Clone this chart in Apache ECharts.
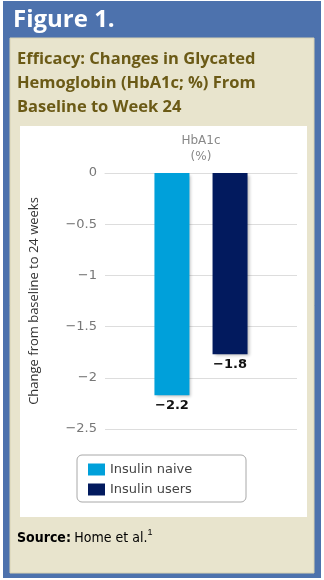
<!DOCTYPE html>
<html>
<head>
<meta charset="utf-8">
<script src="https://cdn.jsdelivr.net/npm/echarts@6/dist/echarts.min.js"></script>
<style>
html,body{margin:0;padding:0;background:#fff;}
#c{width:324px;height:580px;}
</style>
</head>
<body>
<div id="c"></div>
<script>
// ---- data ----
var categories = ['HbA1c\n(%)'];
var seriesNames = ['Insulin naive', 'Insulin users'];
var naiveValues = [-2.17];
var usersValues = [-1.77];
var yMin = -2.5, yMax = 0, yStep = 0.5;
var figureLabel = 'Figure 1.';
var titleLines = ['Efficacy: Changes in Glycated', 'Hemoglobin (HbA1c; %) From', 'Baseline to Week 24'];
var yAxisName = 'Change from baseline to 24 weeks';

var chart = echarts.init(document.getElementById('c'), null, {renderer: 'canvas'});
function minus(v){ return String(v).replace('-', '\u2212'); }

var titleFont = 'bold 16.5px "Open Sans", "Noto Sans", sans-serif';
var graphics = [
  {type:'rect', shape:{x:3, y:1, width:318, height:577}, style:{fill:'#4d72ad'}, z:-10},
  {type:'rect', shape:{x:10, y:38, width:304, height:535}, style:{fill:'#e8e4cd', stroke:'#d8d2b4', lineWidth:1}, z:-9},
  {type:'rect', shape:{x:20, y:126, width:287, height:391}, style:{fill:'#ffffff'}, z:-8},
  {type:'text', x:13, y:20, style:{text:figureLabel, fill:'#ffffff', font:'bold 24px "Open Sans", sans-serif', verticalAlign:'middle'}},
  {type:'rect', shape:{x:77, y:455, width:169, height:47, r:5}, style:{fill:'#ffffff', stroke:'#a8a8a8', lineWidth:1}, z:-7},
  {type:'text', x:17, y:538, style:{
    text:'{b|Source:} {r|Home et al.}{s|1}',
    verticalAlign:'middle',
    rich:{
      b:{font:'bold 14px "Liberation Sans Narrow", "DejaVu Sans Condensed", sans-serif', fill:'#000'},
      r:{font:'14px "Liberation Sans Narrow", "DejaVu Sans Condensed", sans-serif', fill:'#000'},
      s:{font:'9px "Liberation Sans Narrow", sans-serif', fill:'#000', verticalAlign:'top', padding:[0,0,10,0]}
    }
  }}
];
titleLines.forEach(function(t, i){
  graphics.push({type:'text', x:17, y:59 + i*24, style:{text:t, fill:'#6b5a16', font:titleFont, verticalAlign:'middle'}});
});

var option = {
  animation: false,
  graphic: graphics,
  grid: {left:105, right:27, top:173, bottom:151},
  legend: {
    orient:'vertical', left:83, top:458, itemWidth:17, itemHeight:12, itemGap:7,
    icon:'rect',
    textStyle:{fontSize:13, color:'#444', fontFamily:'"DejaVu Sans", sans-serif'},
    data: seriesNames
  },
  xAxis: {
    type:'category', position:'top', data:categories,
    axisLine:{show:true, lineStyle:{color:'#dddddd'}},
    axisTick:{show:false},
    axisLabel:{color:'#888', fontSize:12, lineHeight:16, margin:8, fontFamily:'"DejaVu Sans", sans-serif'}
  },
  yAxis: {
    type:'value', min:yMin, max:yMax, interval:yStep,
    name: yAxisName, nameLocation:'middle', nameGap:64, nameRotate:90,
    nameTextStyle:{color:'#333', fontSize:13, fontFamily:'"Open Sans", sans-serif'},
    axisLine:{show:false}, axisTick:{show:false},
    axisLabel:{color:'#777', fontSize:13, margin:8, formatter:function(v){return minus(v);}, fontFamily:'"DejaVu Sans", sans-serif'},
    splitLine:{lineStyle:{color:'#dddddd'}}
  },
  series: [
    {name:seriesNames[0], type:'bar', data:naiveValues, barWidth:35, barGap:'66%',
     itemStyle:{color:'#00a0da', shadowColor:'rgba(0,0,0,0.25)', shadowBlur:3, shadowOffsetX:2, shadowOffsetY:2},
     label:{show:true, position:'bottom', distance:4, color:'#111', fontWeight:'bold', fontSize:13, fontFamily:'"DejaVu Sans", sans-serif',
       formatter:function(p){return minus(p.value.toFixed(1));}}},
    {name:seriesNames[1], type:'bar', data:usersValues, barWidth:35,
     itemStyle:{color:'#021a5e', shadowColor:'rgba(0,0,0,0.25)', shadowBlur:3, shadowOffsetX:2, shadowOffsetY:2},
     label:{show:true, position:'bottom', distance:4, color:'#111', fontWeight:'bold', fontSize:13, fontFamily:'"DejaVu Sans", sans-serif',
       formatter:function(p){return minus(p.value.toFixed(1));}}}
  ]
};
chart.setOption(option);
</script>
</body>
</html>
